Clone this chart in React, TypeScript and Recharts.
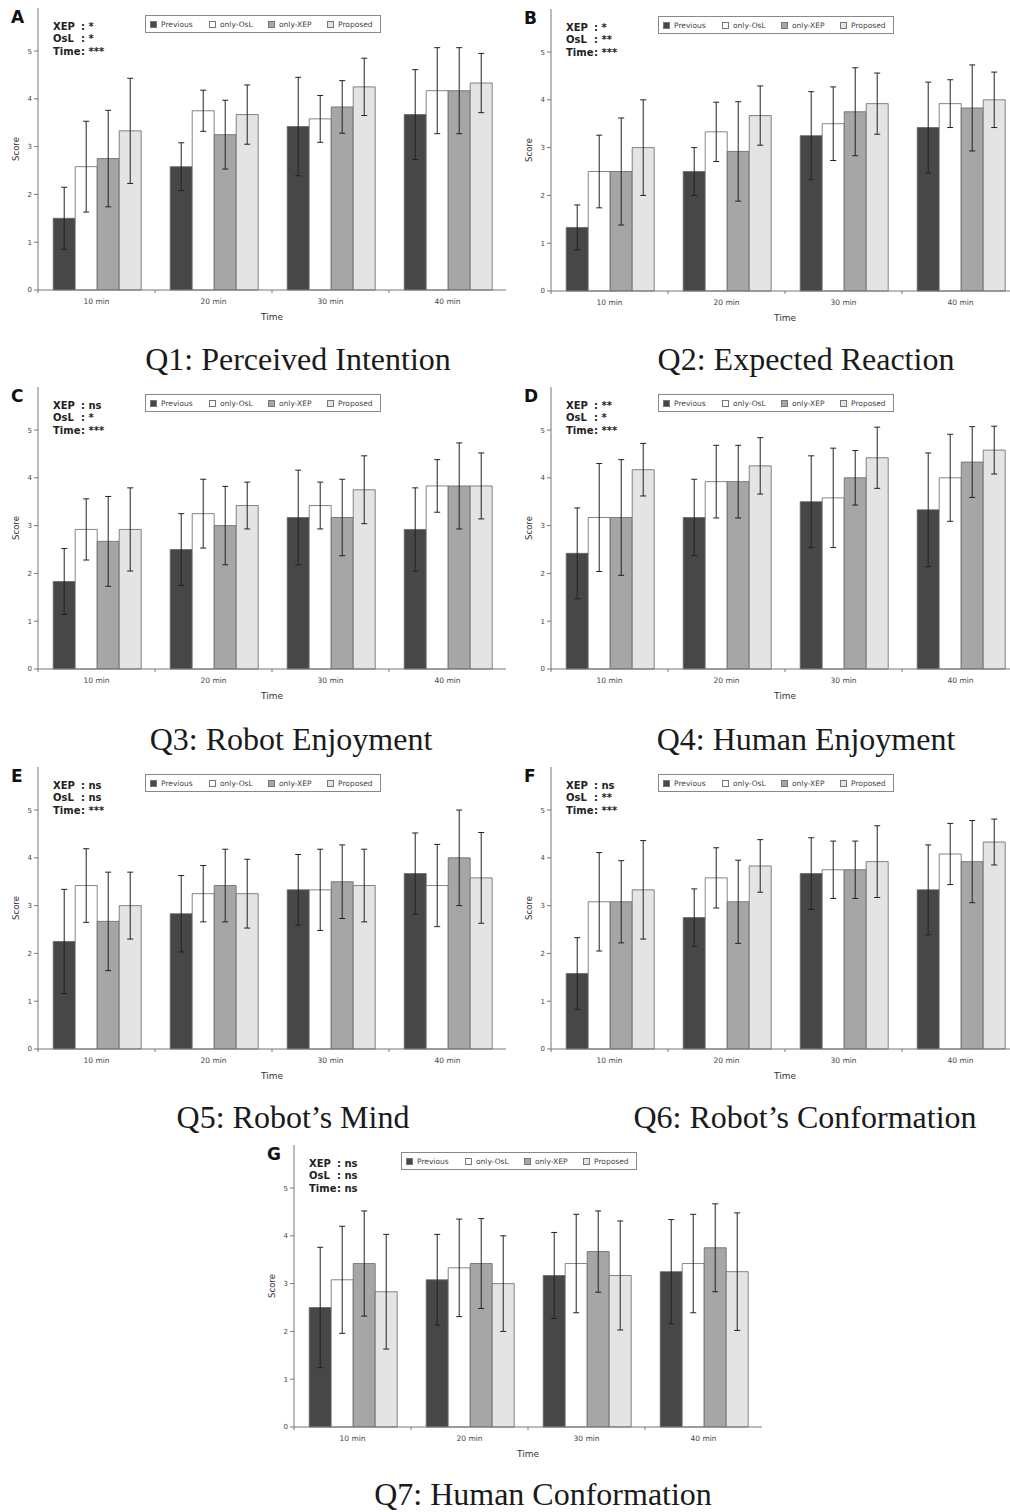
import { BarChart, Bar, XAxis, YAxis, ErrorBar } from 'recharts';

const TIMES = ['10 min', '20 min', '30 min', '40 min'];
const SERIES_NAMES = ['Previous', 'only-OsL', 'only-XEP', 'Proposed'];
const SERIES_KEYS = ['prev', 'osl', 'xep', 'prop'];
const SERIES_FILL = ['#474747', '#ffffff', '#a6a6a6', '#e4e4e4'];
const STAT_LABELS = ['XEP', 'OsL', 'Time'];
const Y_TICKS = [0, 1, 2, 3, 4, 5];

// rows: Previous, only-OsL, only-XEP, Proposed; columns: 10/20/30/40 min
const q1Mean = [
  [1.5, 2.58, 3.42, 3.67],
  [2.58, 3.75, 3.58, 4.17],
  [2.75, 3.25, 3.83, 4.17],
  [3.33, 3.67, 4.25, 4.33],
];
const q1Sd = [
  [0.65, 0.5, 1.03, 0.94],
  [0.95, 0.43, 0.49, 0.9],
  [1.01, 0.72, 0.55, 0.9],
  [1.1, 0.62, 0.6, 0.62],
];
const q1Stats = ['*', '*', '***'];

const q2Mean = [
  [1.33, 2.5, 3.25, 3.42],
  [2.5, 3.33, 3.5, 3.92],
  [2.5, 2.92, 3.75, 3.83],
  [3.0, 3.67, 3.92, 4.0],
];
const q2Sd = [
  [0.47, 0.5, 0.92, 0.95],
  [0.76, 0.62, 0.77, 0.5],
  [1.12, 1.04, 0.92, 0.9],
  [1.0, 0.62, 0.64, 0.58],
];
const q2Stats = ['*', '**', '***'];

const q3Mean = [
  [1.83, 2.5, 3.17, 2.92],
  [2.92, 3.25, 3.42, 3.83],
  [2.67, 3.0, 3.17, 3.83],
  [2.92, 3.42, 3.75, 3.83],
];
const q3Sd = [
  [0.69, 0.75, 0.99, 0.87],
  [0.64, 0.72, 0.49, 0.55],
  [0.94, 0.82, 0.8, 0.9],
  [0.87, 0.49, 0.71, 0.69],
];
const q3Stats = ['ns', '*', '***'];

const q4Mean = [
  [2.42, 3.17, 3.5, 3.33],
  [3.17, 3.92, 3.58, 4.0],
  [3.17, 3.92, 4.0, 4.33],
  [4.17, 4.25, 4.42, 4.58],
];
const q4Sd = [
  [0.95, 0.8, 0.96, 1.19],
  [1.13, 0.76, 1.04, 0.91],
  [1.21, 0.76, 0.57, 0.74],
  [0.55, 0.59, 0.64, 0.5],
];
const q4Stats = ['**', '*', '***'];

const q5Mean = [
  [2.25, 2.83, 3.33, 3.67],
  [3.42, 3.25, 3.33, 3.42],
  [2.67, 3.42, 3.5, 4.0],
  [3.0, 3.25, 3.42, 3.58],
];
const q5Sd = [
  [1.09, 0.8, 0.74, 0.85],
  [0.77, 0.59, 0.85, 0.86],
  [1.03, 0.76, 0.77, 1.0],
  [0.7, 0.72, 0.76, 0.95],
];
const q5Stats = ['ns', 'ns', '***'];

const q6Mean = [
  [1.58, 2.75, 3.67, 3.33],
  [3.08, 3.58, 3.75, 4.08],
  [3.08, 3.08, 3.75, 3.92],
  [3.33, 3.83, 3.92, 4.33],
];
const q6Sd = [
  [0.75, 0.6, 0.75, 0.94],
  [1.03, 0.63, 0.6, 0.64],
  [0.86, 0.87, 0.6, 0.86],
  [1.03, 0.55, 0.75, 0.48],
];
const q6Stats = ['ns', '**', '***'];

const q7Mean = [
  [2.5, 3.08, 3.17, 3.25],
  [3.08, 3.33, 3.42, 3.42],
  [3.42, 3.42, 3.67, 3.75],
  [2.83, 3.0, 3.17, 3.25],
];
const q7Sd = [
  [1.26, 0.95, 0.9, 1.09],
  [1.12, 1.02, 1.03, 1.03],
  [1.1, 0.94, 0.85, 0.92],
  [1.2, 1.0, 1.14, 1.23],
];
const q7Stats = ['ns', 'ns', 'ns'];

const PANELS = [
  { letter: 'A', title: 'Q1: Perceived Intention', mean: q1Mean, sd: q1Sd, stats: q1Stats, left: 0, top: 0, titleX: 298, titleBase: 370 },
  { letter: 'B', title: 'Q2: Expected Reaction', mean: q2Mean, sd: q2Sd, stats: q2Stats, left: 513, top: 1, titleX: 806, titleBase: 370 },
  { letter: 'C', title: 'Q3: Robot Enjoyment', mean: q3Mean, sd: q3Sd, stats: q3Stats, left: 0, top: 379, titleX: 291, titleBase: 750 },
  { letter: 'D', title: 'Q4: Human Enjoyment', mean: q4Mean, sd: q4Sd, stats: q4Stats, left: 513, top: 379, titleX: 806, titleBase: 750 },
  { letter: 'E', title: 'Q5: Robot\u2019s Mind', mean: q5Mean, sd: q5Sd, stats: q5Stats, left: 0, top: 759, titleX: 293, titleBase: 1128 },
  { letter: 'F', title: 'Q6: Robot\u2019s Conformation', mean: q6Mean, sd: q6Sd, stats: q6Stats, left: 513, top: 759, titleX: 805, titleBase: 1128 },
  { letter: 'G', title: 'Q7: Human Conformation', mean: q7Mean, sd: q7Sd, stats: q7Stats, left: 256, top: 1137, titleX: 543, titleBase: 1505 },
];

const CHART_W = 506;
const CHART_H = 330;
const SANS = '"DejaVu Sans", sans-serif';

function buildRows(mean: number[][], sd: number[][]) {
  return TIMES.map((t, i) => {
    const row: any = { time: t };
    SERIES_KEYS.forEach((k, s) => {
      row[k] = mean[s][i];
      row[k + 'Sd'] = sd[s][i];
    });
    return row;
  });
}

// tick label at the band centre, small tick mark at the band's left edge
function CategoryTick(props: any) {
  const { x, y, payload, width, visibleTicksCount } = props;
  const half = Number.isFinite(width) && visibleTicksCount ? width / visibleTicksCount / 2 : 0;
  return (
    <g>
      <line x1={x - half} y1={y} x2={x - half} y2={y + 3} stroke="#777" />
      <text x={x} y={y + 14} textAnchor="middle" fontSize={7.5} fill="#444" fontFamily={SANS}>
        {payload.value}
      </text>
    </g>
  );
}

function Panel({ cfg }: { cfg: any }) {
  const data = buildRows(cfg.mean, cfg.sd);
  return (
    <>
      <div style={{ position: 'absolute', left: cfg.left, top: cfg.top, width: CHART_W, height: CHART_H }}>
        <BarChart
          width={CHART_W}
          height={CHART_H}
          data={data}
          margin={{ top: 8, right: 0, bottom: 0, left: 0 }}
          barGap={0}
          barCategoryGap="13%"
        >
          <XAxis
            dataKey="time"
            height={40}
            interval={0}
            tickLine={false}
            tickSize={0}
            tickMargin={0}
            tick={<CategoryTick />}
            stroke="#777"
            label={{ value: 'Time', position: 'insideBottom', offset: 10, fontSize: 9, fill: '#333', fontFamily: SANS }}
          />
          <YAxis
            width={38}
            domain={[0, 5.9]}
            ticks={Y_TICKS}
            tickSize={4}
            tickMargin={2}
            stroke="#777"
            tick={{ fontSize: 7, fill: '#444', fontFamily: SANS }}
            label={{ value: 'Score', angle: -90, position: 'insideLeft', offset: 16, textAnchor: 'middle', fontSize: 8.5, fill: '#333', fontFamily: SANS }}
          />
          {SERIES_KEYS.map((k, s) => (
            <Bar key={k} dataKey={k} name={SERIES_NAMES[s]} fill={SERIES_FILL[s]} stroke="#666" strokeWidth={0.8} isAnimationActive={false}>
              <ErrorBar dataKey={k + 'Sd'} width={3} stroke="#222" strokeWidth={1} direction="y" />
            </Bar>
          ))}
        </BarChart>

        {/* panel letter */}
        <div style={{ position: 'absolute', left: 11, top: 9, fontFamily: SANS, fontWeight: 'bold', fontSize: 17, lineHeight: '17px', color: '#111' }}>
          {cfg.letter}
        </div>

        {/* significance annotation */}
        <div style={{ position: 'absolute', left: 53, top: 21, fontFamily: SANS, fontWeight: 'bold', fontSize: 10, lineHeight: '12.3px', color: '#222' }}>
          {STAT_LABELS.map((l, i) => (
            <div key={l} style={{ display: 'flex', whiteSpace: 'pre' }}>
              <span style={{ display: 'inline-block', width: 28 }}>{l}</span>
              <span>{': ' + cfg.stats[i]}</span>
            </div>
          ))}
        </div>

        {/* legend */}
        <div
          style={{
            position: 'absolute', left: 145, top: 15, width: 236, height: 18, boxSizing: 'border-box',
            border: '1px solid #888', background: '#fff', display: 'flex', alignItems: 'center',
            fontFamily: SANS, fontSize: 7.5, color: '#444', paddingLeft: 4,
          }}
        >
          {SERIES_NAMES.map((n, s) => (
            <div key={n} style={{ display: 'flex', alignItems: 'center', width: s === 3 ? 'auto' : 59 }}>
              <span style={{ display: 'inline-block', width: 7, height: 7, background: SERIES_FILL[s], border: '1px solid #777', boxSizing: 'border-box', marginRight: 4 }} />
              <span>{n}</span>
            </div>
          ))}
        </div>
      </div>

      <div
        style={{
          position: 'absolute', left: cfg.titleX, top: cfg.titleBase - 27, transform: 'translateX(-50%)',
          whiteSpace: 'nowrap', fontFamily: '"Liberation Serif", serif', fontSize: 32, lineHeight: '32px', color: '#1a1a1a',
        }}
      >
        {cfg.title}
      </div>
    </>
  );
}

export default function App() {
  return (
    <div style={{ position: 'absolute', left: 0, top: 0, width: 1010, height: 1512, overflow: 'hidden', background: '#fff' }}>
      {PANELS.map((p) => (
        <Panel key={p.letter} cfg={p} />
      ))}
    </div>
  );
}
